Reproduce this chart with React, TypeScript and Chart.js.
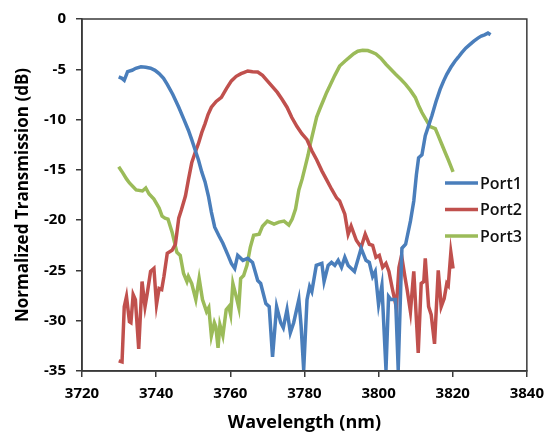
import React, { useEffect, useRef } from "react";
import Chart from "chart.js/auto";

const port1Wl = [3729.9,3730.8,3731.4,3732.3,3733.5,3734.5,3735.9,3737.2,3738.5,3739.7,3740.8,3742.0,3743.0,3744.5,3746.1,3747.4,3748.7,3749.6,3750.5,3751.4,3752.3,3753.2,3754.1,3754.9,3755.8,3757.0,3758.0,3759.4,3760.3,3761.2,3762.0,3763.4,3764.7,3766.0,3767.4,3768.2,3769.6,3770.5,3771.4,3772.5,3773.6,3774.3,3775.3,3776.2,3777.1,3778.5,3779.1,3779.8,3780.7,3781.4,3782.0,3783.2,3784.7,3785.3,3786.4,3787.3,3788.2,3789.1,3790.0,3790.9,3791.8,3793.5,3795.3,3796.6,3797.5,3798.4,3799.1,3800.0,3800.9,3802.0,3802.7,3803.3,3804.6,3805.3,3806.3,3807.3,3808.6,3809.5,3810.2,3810.8,3811.7,3812.6,3813.5,3814.4,3815.5,3816.6,3817.5,3818.4,3819.5,3820.6,3821.5,3822.4,3823.5,3824.6,3825.7,3826.8,3827.7,3828.6,3829.5,3830.2];
const port1Db = [-5.76,-5.9,-6.1,-5.24,-5.1,-4.9,-4.75,-4.8,-4.9,-5.1,-5.43,-5.9,-6.5,-7.5,-8.77,-9.9,-11.06,-12.0,-13.0,-14.0,-15.2,-16.2,-17.6,-19.2,-20.7,-21.6,-22.3,-23.5,-24.3,-24.8,-23.5,-24.0,-23.8,-24.2,-26.0,-26.3,-28.3,-28.6,-33.6,-28.6,-30.2,-30.7,-28.9,-31.2,-30.2,-27.9,-30.5,-34.9,-27.9,-26.6,-27.1,-24.5,-24.3,-26.1,-24.5,-24.2,-24.5,-24.0,-24.7,-23.7,-24.5,-25.1,-22.8,-24.0,-24.2,-25.6,-25.1,-28.4,-26.5,-34.9,-27.6,-27.9,-27.9,-34.9,-22.8,-22.4,-20.1,-18.1,-15.5,-13.8,-13.5,-11.6,-10.6,-9.6,-8.2,-7.0,-6.2,-5.5,-4.8,-4.2,-3.8,-3.37,-2.9,-2.55,-2.2,-1.9,-1.7,-1.57,-1.4,-1.57];

const port2Wl = [3729.9,3730.8,3731.4,3732.0,3732.8,3733.2,3733.8,3734.4,3735.3,3736.2,3737.0,3737.6,3738.5,3739.4,3740.1,3740.8,3741.5,3742.1,3743.0,3744.3,3745.2,3746.1,3746.8,3747.9,3748.7,3749.6,3750.5,3751.4,3752.3,3753.2,3754.0,3754.9,3756.2,3757.6,3759.0,3760.3,3761.6,3762.9,3763.8,3764.7,3766.0,3767.4,3768.7,3770.0,3771.3,3772.7,3774.0,3775.3,3776.6,3778.0,3779.3,3780.7,3782.0,3783.3,3784.7,3786.0,3787.3,3788.7,3789.5,3790.9,3791.8,3792.6,3794.0,3795.3,3796.4,3797.5,3798.4,3799.3,3800.2,3801.1,3802.0,3802.8,3803.7,3804.8,3805.5,3806.2,3807.1,3807.7,3808.6,3809.5,3810.7,3811.5,3812.2,3812.6,3813.5,3814.2,3815.1,3816.1,3816.9,3817.7,3818.4,3818.8,3819.5,3820.1];
const port2Db = [-34.0,-34.1,-28.6,-27.6,-30.1,-30.2,-27.4,-27.9,-32.8,-26.1,-28.6,-27.3,-25.1,-24.8,-28.4,-26.8,-26.9,-25.6,-23.3,-23.0,-22.4,-19.8,-19.0,-17.6,-16.0,-14.3,-13.3,-12.4,-11.3,-10.4,-9.5,-8.77,-8.2,-7.8,-6.9,-6.15,-5.7,-5.43,-5.3,-5.17,-5.25,-5.27,-5.6,-6.15,-6.7,-7.3,-8.0,-8.77,-9.8,-10.7,-11.4,-12.0,-13.1,-14.0,-15.1,-16.0,-16.9,-17.8,-18.1,-19.4,-21.4,-20.6,-22.0,-22.7,-21.4,-22.4,-22.5,-23.7,-23.5,-24.7,-24.3,-25.1,-26.8,-28.7,-24.7,-23.5,-25.6,-26.9,-29.1,-25.1,-33.2,-26.3,-26.1,-23.8,-28.6,-29.4,-32.3,-25.0,-28.6,-27.8,-26.3,-26.5,-23.2,-24.8];

const port3Wl = [3729.9,3731.0,3732.0,3732.8,3734.6,3736.3,3737.2,3738.1,3739.4,3740.8,3741.6,3742.4,3743.2,3744.3,3745.6,3746.5,3747.4,3748.3,3748.7,3749.6,3750.7,3751.6,3752.5,3753.6,3754.2,3754.9,3755.7,3756.1,3756.7,3757.2,3758.0,3758.9,3759.6,3760.1,3760.7,3761.6,3762.3,3762.8,3763.6,3764.5,3765.4,3766.3,3767.8,3768.7,3770.0,3771.8,3773.1,3774.5,3775.8,3776.7,3777.6,3778.5,3779.4,3780.2,3781.0,3781.6,3782.5,3783.3,3784.2,3785.1,3786.0,3786.9,3788.2,3789.5,3790.9,3792.2,3793.3,3794.4,3795.7,3797.1,3798.2,3799.3,3800.6,3802.0,3803.3,3804.6,3806.0,3807.3,3808.6,3809.9,3810.8,3811.7,3812.8,3813.9,3815.3,3816.1,3817.0,3818.0,3818.8,3820.1];
const port3Db = [-14.7,-15.3,-15.9,-16.3,-17.0,-17.1,-16.8,-17.4,-17.9,-18.8,-19.6,-19.8,-19.9,-21.2,-23.2,-23.5,-25.3,-26.1,-25.6,-26.3,-27.9,-25.8,-27.9,-29.1,-28.7,-31.5,-30.2,-30.6,-32.7,-30.4,-31.5,-28.9,-28.6,-29.4,-26.3,-27.6,-28.7,-25.8,-25.5,-24.5,-22.7,-21.5,-21.4,-20.6,-20.1,-20.4,-20.2,-20.1,-20.5,-19.9,-18.9,-17.0,-15.9,-14.7,-13.5,-12.4,-11.0,-9.75,-8.9,-8.1,-7.3,-6.6,-5.6,-4.68,-4.2,-3.8,-3.45,-3.2,-3.1,-3.14,-3.3,-3.47,-3.9,-4.5,-5.0,-5.5,-6.0,-6.5,-7.1,-7.8,-8.6,-9.3,-10.0,-10.7,-10.9,-11.6,-12.4,-13.3,-14.0,-15.2];

const seriesNames = ["Port1", "Port2", "Port3"];
const seriesColors = ["#4A7EBB", "#C0504D", "#9BBB59"];
const xTicks = [3720, 3740, 3760, 3780, 3800, 3820, 3840];
const yTicks = [0, -5, -10, -15, -20, -25, -30, -35];

const FONT = "'Open Sans', Lato, sans-serif";

function pts(xs: number[], ys: number[]) {
  return xs.map((x, i) => ({ x, y: ys[i] }));
}

const framePlugin = {
  id: "frameAndLegend",
  afterDraw(chart: any) {
    const { ctx, chartArea } = chart;
    ctx.save();
    ctx.strokeStyle = "#3a3a3a";
    ctx.lineWidth = 1.5;
    ctx.strokeRect(chartArea.left, chartArea.top, chartArea.right - chartArea.left, chartArea.bottom - chartArea.top);
    const ys = [183, 209.5, 236];
    ctx.font = `600 16px ${FONT}`;
    ctx.textBaseline = "middle";
    ctx.textAlign = "left";
    seriesNames.forEach((name, i) => {
      ctx.strokeStyle = seriesColors[i];
      ctx.lineWidth = 3.5;
      ctx.beginPath();
      ctx.moveTo(445, ys[i]);
      ctx.lineTo(478, ys[i]);
      ctx.stroke();
      ctx.fillStyle = "#111";
      ctx.fillText(name, 480, ys[i] + 1);
    });
    ctx.restore();
  },
};

export default function App() {
  const ref = useRef<HTMLCanvasElement>(null);
  useEffect(() => {
    if (!ref.current) return;
    const data = [pts(port1Wl, port1Db), pts(port2Wl, port2Db), pts(port3Wl, port3Db)];
    const chart = new Chart(ref.current, {
      type: "line",
      data: {
        datasets: data.map((d, i) => ({
          label: seriesNames[i],
          data: d,
          borderColor: seriesColors[i],
          backgroundColor: seriesColors[i],
          borderWidth: 3.5,
          pointRadius: 0,
          tension: 0,
          fill: false,
        })),
      },
      options: {
        animation: false,
        responsive: false,
        devicePixelRatio: 1,
        parsing: false as any,
        layout: { padding: { top: 16, right: 19, left: 0, bottom: 0 } },
        plugins: { legend: { display: false }, tooltip: { enabled: false } },
        scales: {
          x: {
            type: "linear",
            min: 3720,
            max: 3840,
            afterFit: (s: any) => { s.height = 67; },
            afterBuildTicks: (s: any) => { s.ticks = xTicks.map((v) => ({ value: v })); },
            grid: { drawOnChartArea: false, drawTicks: true, tickLength: 6, color: "#3a3a3a", lineWidth: 1.5 },
            border: { display: true, color: "#3a3a3a", width: 1.5 },
            ticks: { padding: 8, color: "#000", font: { family: FONT, size: 15, weight: "bold" }, callback: (v: any) => String(v) },
            title: {
              display: true,
              text: "Wavelength (nm)",
              color: "#000",
              font: { family: FONT, size: 18, weight: "bold" },
              padding: { top: 0, bottom: 4 },
            },
          },
          y: {
            type: "linear",
            min: -35,
            max: 0,
            afterFit: (s: any) => { s.width = 82; },
            afterBuildTicks: (s: any) => { s.ticks = yTicks.map((v) => ({ value: v })); },
            grid: { drawOnChartArea: false, drawTicks: true, tickLength: 6, color: "#3a3a3a", lineWidth: 1.5 },
            border: { display: true, color: "#3a3a3a", width: 1.5 },
            ticks: { padding: 10, color: "#000", font: { family: FONT, size: 15, weight: "bold" }, callback: (v: any) => String(v) },
            title: {
              display: true,
              text: "Normalized Transmission (dB)",
              color: "#000",
              font: { family: FONT, size: 17, weight: "bold" },
              padding: { top: 13, bottom: 0 },
            },
          },
        },
      },
      plugins: [framePlugin],
    });
    return () => chart.destroy();
  }, []);
  return (
    <div style={{ position: "absolute", left: 0, top: 0, width: 552, height: 438, background: "#fff" }}>
      <canvas ref={ref} width={552} height={438} />
    </div>
  );
}
